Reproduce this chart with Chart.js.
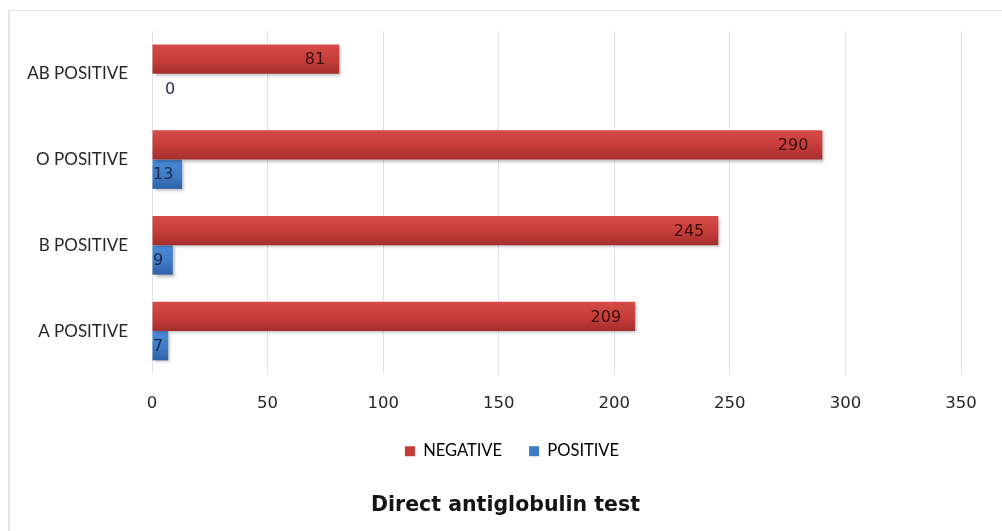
<!DOCTYPE html>
<html>
<head>
<meta charset="utf-8">
<title>Direct antiglobulin test</title>
<script src="https://cdn.jsdelivr.net/npm/chart.js@4/dist/chart.umd.min.js"></script>
<style>
  html, body { margin: 0; padding: 0; background: #ffffff; }
  #wrap { position: relative; width: 1002px; height: 531px; overflow: hidden; }
  #frame { position: absolute; left: 8px; top: 10px; width: 1100px; height: 600px;
           border-left: 2px solid #e3e5e8; border-top: 1px solid #e3e5e8; box-sizing: border-box; }
  #c { position: absolute; left: 0; top: 0; }
</style>
</head>
<body>
<div id="wrap">
  <div id="frame"></div>
  <canvas id="c" width="1002" height="531"></canvas>
</div>
<script>
// Blood groups, top to bottom
const categories = ['AB POSITIVE', 'O POSITIVE', 'B POSITIVE', 'A POSITIVE'];
const negativeValues = [81, 290, 245, 209];
const positiveValues = [0, 13, 9, 7];
const xTicks = [0, 50, 100, 150, 200, 250, 300, 350];
const seriesNames = ['NEGATIVE', 'POSITIVE'];
const chartTitle = 'Direct antiglobulin test';

const CAT_PCT = 0.684;
const palette = [
  { light: '#d44b47', mid: '#c63c39', dark: '#a32e2c', label: '#3a1010' },
  { light: '#4a8ad6', mid: '#3f7bc6', dark: '#2f62a6', label: '#1c2a4a' }
];

// Vertical shading for each bar, computed from the category scale
function barFill(dsIndex) {
  return function (ctx) {
    const chart = ctx.chart;
    const y = chart.scales && chart.scales.y;
    if (!chart.chartArea || !y || ctx.dataIndex === undefined) return palette[dsIndex].mid;
    const center = y.getPixelForValue(ctx.dataIndex);
    const band = (y.bottom - y.top) / categories.length * CAT_PCT;
    const top = dsIndex === 0 ? center - band / 2 : center;
    const bottom = top + band / 2;
    const g = chart.ctx.createLinearGradient(0, top, 0, bottom);
    g.addColorStop(0, palette[dsIndex].light);
    g.addColorStop(0.55, palette[dsIndex].mid);
    g.addColorStop(1, palette[dsIndex].dark);
    return g;
  };
}

// Soft drop shadow under the bars
const barShadow = {
  id: 'barShadow',
  beforeDatasetsDraw(chart) {
    const c = chart.ctx;
    c.save();
    c.shadowColor = 'rgba(0,0,0,0.28)';
    c.shadowBlur = 3;
    c.shadowOffsetX = 2;
    c.shadowOffsetY = 2;
  },
  afterDatasetsDraw(chart) {
    chart.ctx.restore();
  }
};

// Legend and title sit centred a little right of the canvas middle
const footerOffset = {
  id: 'footerOffset',
  afterLayout(chart) {
    if (chart.legend) chart.legend.left = 63;
    if (chart.titleBlock) chart.titleBlock.left = 50;
  }
};

// Value labels at the end of each bar
const valueLabels = {
  id: 'valueLabels',
  afterDatasetsDraw(chart) {
    const c = chart.ctx;
    const base = chart.scales.x.getPixelForValue(0);
    c.save();
    c.font = '16px "DejaVu Sans"';
    c.textBaseline = 'middle';
    chart.data.datasets.forEach((ds, di) => {
      const meta = chart.getDatasetMeta(di);
      meta.data.forEach((bar, i) => {
        const v = ds.data[i];
        const txt = String(v);
        const w = c.measureText(txt).width;
        let x;
        if (v === 0) {
          x = bar.x + 13;
        } else {
          x = Math.max(bar.x - w - (di === 0 ? 14 : 10), base + 1);
        }
        c.fillStyle = palette[di].label;
        c.textAlign = 'left';
        c.fillText(txt, x, bar.y + 1);
      });
    });
    c.restore();
  }
};

new Chart(document.getElementById('c'), {
  type: 'bar',
  data: {
    labels: categories,
    datasets: [
      { label: seriesNames[0], data: negativeValues, backgroundColor: barFill(0), borderWidth: 0 },
      { label: seriesNames[1], data: positiveValues, backgroundColor: barFill(1), borderWidth: 0 }
    ]
  },
  options: {
    indexAxis: 'y',
    responsive: false,
    animation: false,
    events: [],
    categoryPercentage: CAT_PCT,
    barPercentage: 1,
    layout: { padding: { top: 31, right: 41, bottom: 0, left: 0 } },
    scales: {
      x: {
        min: 0,
        max: 350,
        afterBuildTicks(axis) { axis.ticks = xTicks.map(v => ({ value: v })); },
        afterFit(axis) { axis.height = 42; },
        grid: { color: '#dde1e8', lineWidth: 1, drawTicks: false },
        border: { display: false },
        ticks: {
          padding: 20,
          color: '#262626',
          font: { family: '"DejaVu Sans"', size: 16.5 }
        }
      },
      y: {
        afterFit(axis) {
          axis.width = 152;
          axis.paddingTop = 0;
          axis.paddingBottom = 0;
        },
        grid: { display: false, drawTicks: false },
        border: { display: false },
        ticks: {
          padding: 24,
          color: '#262626',
          font: { family: 'Lato', size: 17 }
        }
      }
    },
    plugins: {
      legend: {
        position: 'bottom',
        labels: {
          boxWidth: 10,
          boxHeight: 10,
          padding: 27,
          color: '#262626',
          font: { family: 'Lato', size: 16.5 },
          generateLabels(chart) {
            return chart.data.datasets.map((ds, i) => ({
              text: ds.label,
              fillStyle: palette[i].mid,
              strokeStyle: palette[i].mid,
              lineWidth: 0,
              datasetIndex: i
            }));
          }
        }
      },
      title: {
        display: true,
        position: 'bottom',
        text: chartTitle,
        color: '#141414',
        font: { family: '"DejaVu Sans"', size: 20.5, weight: 'bold' },
        padding: { top: 24, bottom: 13 }
      },
      tooltip: { enabled: false }
    }
  },
  plugins: [barShadow, footerOffset, valueLabels]
});
</script>
</body>
</html>
